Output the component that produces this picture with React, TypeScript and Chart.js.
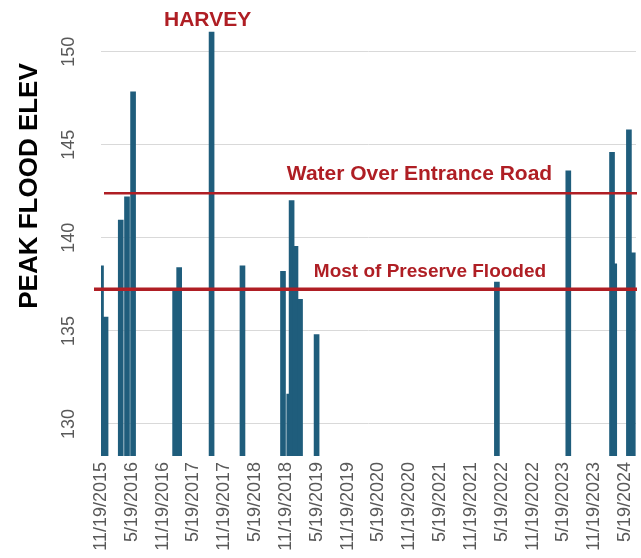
import React, { useEffect, useRef } from "react";
import { Chart, registerables } from "chart.js";

Chart.register(...registerables);

// ---------- DATA ----------
const AXIS_START = "2015-11-19";
const AXIS_END_DAYS = 3169; // axis runs a little past the last tick

const tickDates = [
  "2015-11-19", "2016-05-19", "2016-11-19", "2017-05-19", "2017-11-19",
  "2018-05-19", "2018-11-19", "2019-05-19", "2019-11-19", "2020-05-19",
  "2020-11-19", "2021-05-19", "2021-11-19", "2022-05-19", "2022-11-19",
  "2023-05-19", "2023-11-19", "2024-05-19",
];
const tickLabels = [
  "11/19/2015", "5/19/2016", "11/19/2016", "5/19/2017", "11/19/2017",
  "5/19/2018", "11/19/2018", "5/19/2019", "11/19/2019", "5/19/2020",
  "11/19/2020", "5/19/2021", "11/19/2021", "5/19/2022", "11/19/2022",
  "5/19/2023", "11/19/2023", "5/19/2024",
];

const floodDates = [
  "2015-11-19", "2015-12-16", "2016-03-15", "2016-04-21", "2016-05-27",
  "2017-01-31", "2017-02-24", "2017-09-04", "2018-03-06", "2018-11-01",
  "2018-12-08", "2018-12-22", "2019-01-14", "2019-02-10", "2019-05-19",
  "2022-04-21", "2023-06-18", "2024-03-03", "2024-03-16", "2024-06-11",
  "2024-07-04",
];
const floodElevations = [
  138.5, 135.75, 140.95, 142.2, 147.85,
  137.15, 138.4, 151.05, 138.5, 138.2,
  131.6, 142.0, 139.55, 136.7, 134.8,
  137.63, 143.6, 144.6, 138.6, 145.8,
  139.2,
];

const yTicks = [130, 135, 140, 145, 150];
const Y_MIN = 128.28;
const Y_MAX = 152;

const thresholdValues = [142.4, 137.24];
const thresholdLabels = ["Water Over Entrance Road", "Most of Preserve Flooded"];

const eventLabel = "HARVEY";
const eventDate = "2017-09-04";
const yTitle = "PEAK FLOOD ELEV";

// ---------- HELPERS ----------
function dayOf(s: string): number {
  const [y, m, d] = s.split("-").map(Number);
  const [y0, m0, d0] = AXIS_START.split("-").map(Number);
  return Math.round((Date.UTC(y, m - 1, d) - Date.UTC(y0, m0 - 1, d0)) / 86400000);
}

const FONT = "'Liberation Sans', Arial, sans-serif";
const BAR_COLOR = "#1F5D7C";
const RED = "#AF1E24";
const GRAY_TEXT = "#595959";

const annotationPlugin = {
  id: "floodAnnotations",
  afterDatasetsDraw(chart: any) {
    const { ctx, chartArea, scales } = chart;
    const ys = scales.y;
    const xs = scales.x;
    ctx.save();
    // threshold lines
    const lineWidths = [2.5, 3.5];
    const lineStartOffsets = [3, -7];
    const labelDy = [-19, -17.5];
    const labelCx = [419.5, 430];
    const labelSizes = [21, 19];
    thresholdValues.forEach((v, i) => {
      const py = ys.getPixelForValue(v);
      ctx.strokeStyle = RED;
      ctx.lineWidth = lineWidths[i];
      ctx.beginPath();
      ctx.moveTo(chartArea.left + lineStartOffsets[i], py);
      ctx.lineTo(chartArea.right + 1, py);
      ctx.stroke();
      ctx.fillStyle = RED;
      ctx.font = `bold ${labelSizes[i]}px ${FONT}`;
      ctx.textAlign = "center";
      ctx.textBaseline = "middle";
      ctx.fillText(thresholdLabels[i], labelCx[i], py + labelDy[i]);
    });
    // event label
    const ex = xs.getPixelForValue(dayOf(eventDate));
    ctx.fillStyle = RED;
    ctx.font = `bold 21px ${FONT}`;
    ctx.textAlign = "center";
    ctx.textBaseline = "middle";
    ctx.fillText(eventLabel, ex - 4, 20);
    ctx.restore();
  },
  afterDraw(chart: any) {
    const { ctx, chartArea, scales } = chart;
    const ys = scales.y;
    ctx.save();
    // rotated y tick labels
    ctx.fillStyle = GRAY_TEXT;
    ctx.font = `18px ${FONT}`;
    ctx.textAlign = "center";
    ctx.textBaseline = "middle";
    yTicks.forEach((v) => {
      const py = ys.getPixelForValue(v);
      ctx.save();
      ctx.translate(chartArea.left - 32, py);
      ctx.rotate(-Math.PI / 2);
      ctx.fillText(String(v), 0, 0);
      ctx.restore();
    });
    // y title
    ctx.fillStyle = "#000000";
    ctx.font = `bold 26px ${FONT}`;
    ctx.save();
    ctx.translate(chartArea.left - 71, 186);
    ctx.rotate(-Math.PI / 2);
    ctx.fillText(yTitle, 0, 0);
    ctx.restore();
    ctx.restore();
  },
};

export default function App() {
  const canvasRef = useRef<HTMLCanvasElement | null>(null);

  useEffect(() => {
    document.body.style.margin = "0";
    const canvas = canvasRef.current;
    if (!canvas) return;
    const tickDays = tickDates.map(dayOf);
    const chart = new Chart(canvas, {
      type: "bar",
      data: {
        datasets: [
          {
            label: "Peak flood elevation",
            data: floodDates.map((d, i) => ({ x: dayOf(d), y: floodElevations[i] })),
            backgroundColor: BAR_COLOR,
            borderWidth: 0,
            barThickness: 5,
            clip: 0,
          } as any,
        ],
      },
      options: {
        animation: false,
        responsive: false,
        devicePixelRatio: 1,
        layout: { padding: { top: 14.5, right: 5, left: 0, bottom: 0 } },
        plugins: {
          legend: { display: false },
          tooltip: { enabled: false },
          title: { display: false },
        },
        scales: {
          x: {
            type: "linear",
            min: 0,
            max: AXIS_END_DAYS,
            offset: false,
            grid: { display: false, drawTicks: false },
            border: { display: false },
            afterBuildTicks: (s: any) => {
              s.ticks = tickDays.map((v) => ({ value: v }));
            },
            afterFit: (s: any) => {
              s.height = 102;
              s.paddingLeft = 0;
              s.paddingRight = 0;
            },
            ticks: {
              autoSkip: false,
              minRotation: 90,
              maxRotation: 90,
              padding: 6,
              color: GRAY_TEXT,
              font: { family: FONT, size: 18 },
              callback: (_v: any, i: number) => tickLabels[i],
            },
          },
          y: {
            min: Y_MIN,
            max: Y_MAX,
            grid: { color: "#D9D9D9", lineWidth: 1, drawTicks: false },
            border: { display: false },
            afterBuildTicks: (s: any) => {
              s.ticks = yTicks.map((v) => ({ value: v }));
            },
            afterFit: (s: any) => {
              s.width = 101;
              s.paddingTop = 0;
              s.paddingBottom = 0;
            },
            ticks: { display: false },
          },
        },
      } as any,
      plugins: [annotationPlugin],
    });
    return () => chart.destroy();
  }, []);

  return (
    <div style={{ width: 641, height: 558, background: "#ffffff" }}>
      <canvas ref={canvasRef} width={641} height={558} style={{ display: "block" }} />
    </div>
  );
}
